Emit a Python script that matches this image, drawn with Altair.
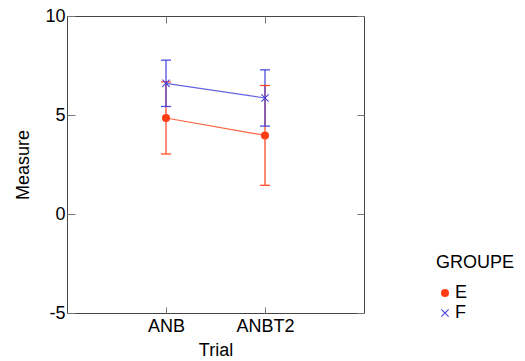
import altair as alt
import pandas as pd

trials = ["ANB", "ANBT2"]
groups = ["E", "F"]
e_mean = [4.85, 3.97]
e_err = [1.82, 2.52]
f_mean = [6.60, 5.86]
f_err = [1.17, 1.42]
y_ticks = [-5, 0, 5, 10]

group_colors = ["#ff3c12", "#3c3cdc"]
x_path = ("M-1,-0.82L-0.82,-1L1,0.82L0.82,1Z "
          "M-1,0.82L0.82,-1L1,-0.82L-0.82,1Z")

rows = []
for g, means, errs in [("E", e_mean, e_err), ("F", f_mean, f_err)]:
    for t, m, e in zip(trials, means, errs):
        rows.append({"trial": t, "group": g, "mean": m, "err": e})
df = pd.DataFrame(rows)

FONT = "Liberation Sans"

xscale = alt.Scale(type="point", padding=1, domain=trials)
yscale = alt.Scale(domain=[-5, 10], nice=False, zero=False)

x_bottom = alt.X("trial:N", scale=xscale, sort=trials,
                 axis=alt.Axis(orient="bottom", title="Trial", domain=False,
                               tickSize=6, offset=-6, labelPadding=4,
                               tickColor="#777", labelAngle=0,
                               titlePadding=6))
left_axis = alt.Axis(orient="left", title="Measure", values=y_ticks,
                     domain=False, tickSize=8, offset=-8, labelPadding=2,
                     tickColor="#777", titlePadding=12,
                     labelExpr="'' + datum.value")

leg = alt.Legend(title="GROUPE", orient="none", legendX=369, legendY=238,
                 symbolSize=64, symbolStrokeWidth=0, symbolOpacity=1,
                 titlePadding=12, rowPadding=2, labelOffset=1)

base = alt.Chart(df).transform_calculate(
    lo="datum.mean - datum.err", hi="datum.mean + datum.err"
)

color_enc = alt.Color("group:N", scale=alt.Scale(domain=groups, range=group_colors),
                      legend=leg)

bars = base.mark_rule(strokeWidth=1.3, opacity=0.9).encode(
    x=x_bottom, y=alt.Y("lo:Q", scale=yscale, axis=left_axis),
    y2="hi:Q", color=color_enc)

caps_lo = base.mark_tick(size=10, thickness=1.3, opacity=0.9).encode(
    x=x_bottom, y=alt.Y("lo:Q", scale=yscale), color=color_enc)
caps_hi = base.mark_tick(size=10, thickness=1.3, opacity=0.9).encode(
    x=x_bottom, y=alt.Y("hi:Q", scale=yscale), color=color_enc)

lines = base.mark_line(strokeWidth=1.2, opacity=0.8).encode(
    x=x_bottom, y=alt.Y("mean:Q", scale=yscale), color=color_enc,
    detail="group:N")

points = base.mark_point(filled=True, size=64, opacity=1).encode(
    x=x_bottom, y=alt.Y("mean:Q", scale=yscale),
    color=color_enc,
    shape=alt.Shape("group:N", scale=alt.Scale(domain=groups, range=["circle", x_path]),
                    legend=leg),
)

main = alt.layer(bars, caps_lo, caps_hi, lines, points)

mirror = alt.Chart(df).mark_point(opacity=0).encode(
    x=alt.X("trial:N", scale=xscale, sort=trials,
            axis=alt.Axis(orient="top", labels=False, title=None, domain=False,
                          tickSize=7, offset=-7, tickColor="#777")),
    y=alt.Y("mean:Q", scale=yscale,
            axis=alt.Axis(orient="right", labels=False, title=None, values=y_ticks,
                          domain=False, tickSize=7, offset=-7, tickColor="#777")),
)

chart = alt.layer(main, mirror).resolve_scale(
    x="independent", y="independent"
).properties(
    width=297, height=297,
    autosize=alt.AutoSizeParams(type="none"),
    padding={"left": 67, "top": 16, "right": 161, "bottom": 48},
).configure_view(
    stroke="#444", strokeWidth=1
).configure_axis(
    labelFont=FONT, titleFont=FONT, labelFontSize=18, titleFontSize=18,
    labelColor="#000", titleColor="#000", titleFontWeight="normal", grid=False,
).configure_legend(
    titleFont=FONT, labelFont=FONT, titleFontSize=18, labelFontSize=18,
    titleFontWeight="normal", titleColor="#000", labelColor="#000",
)

chart.save("out.html", embed_options={"renderer": "svg", "actions": False})
